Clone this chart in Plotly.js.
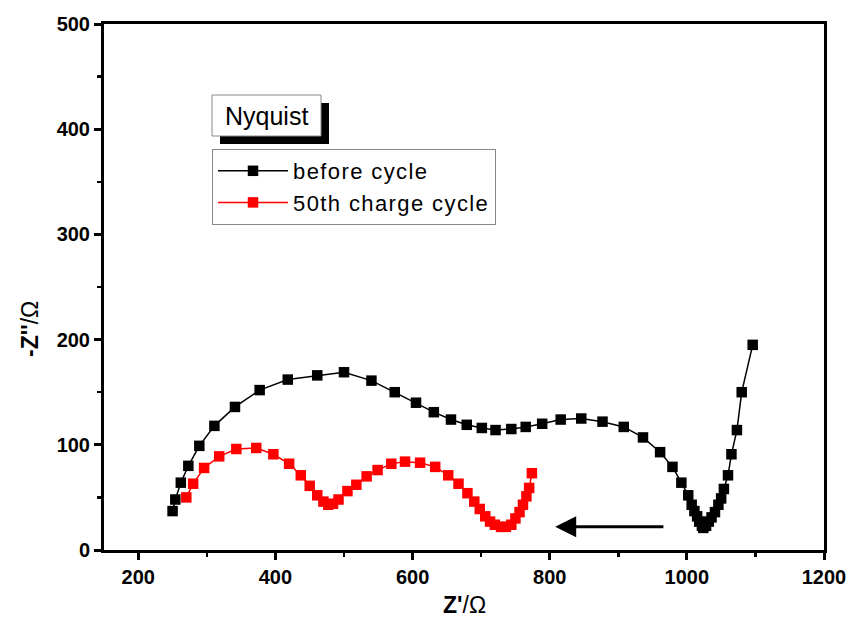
<!DOCTYPE html>
<html>
<head>
<meta charset="utf-8">
<script src="https://cdn.plot.ly/plotly-3.0.1.min.js"></script>
<style>
html,body{margin:0;padding:0;background:#fff}
.legendtext{letter-spacing:1.4px}
</style>
</head>
<body>
<div id="chart" style="width:848px;height:619px"></div>
<script>
// "before cycle" series
var beforeX = [250, 254, 262, 273, 289, 311, 341, 377, 418, 461, 500, 540, 574, 605, 631, 656, 679, 701, 721, 744, 765, 789, 816, 846, 877, 908, 936, 961, 979, 992, 1002, 1007, 1011, 1015, 1018, 1022, 1024, 1028, 1032, 1036, 1041, 1046, 1050, 1054, 1060, 1065, 1073, 1080, 1096];
var beforeY = [37, 48, 64, 80, 99, 118, 136, 152, 162, 166, 169, 161, 150, 140, 131, 124, 119, 116, 114, 115, 117, 120, 124, 125, 122, 117, 107, 93, 79, 64, 52, 43, 37, 32, 27, 23, 21, 23, 27, 31, 36, 43, 49, 58, 71, 91, 114, 150, 195];
// "50th charge cycle" series
var afterX = [270, 280, 296, 318, 343, 372, 397, 420, 437, 450, 461, 470, 477, 484, 492, 505, 518, 533, 549, 569, 589, 611, 633, 652, 667, 680, 690, 698, 706, 713, 720, 729, 736, 744, 750, 756, 761, 766, 770, 774];
var afterY = [50, 63, 78, 89, 96, 97, 91, 82, 71, 61, 52, 46, 43, 44, 48, 56, 62, 70, 76, 82, 84, 83, 79, 71, 63, 54, 46, 39, 32, 27, 24, 22, 22, 24, 30, 36, 43, 51, 59, 73];
var seriesNames = ["before cycle", "50th charge cycle"];
var xTicks = [200, 400, 600, 800, 1000, 1200];
var yTicks = [0, 100, 200, 300, 400, 500];

var FONT = "Liberation Sans, Arial, sans-serif";

var traces = [
  {x: beforeX, y: beforeY, name: seriesNames[0], type: "scatter", mode: "lines+markers",
   line: {color: "#000000", width: 1.5}, marker: {symbol: "square", size: 10.5, color: "#000000"}},
  {x: afterX, y: afterY, name: seriesNames[1], type: "scatter", mode: "lines+markers",
   line: {color: "#ff0000", width: 1.5}, marker: {symbol: "square", size: 10.5, color: "#ff0000"}}
];

function px2x(px){ return (px - 104) / 720; }
function py2y(py){ return (550 - py) / 526; }

var layout = {
  width: 848, height: 619,
  margin: {l: 104, r: 24, t: 24, b: 69},
  paper_bgcolor: "#ffffff", plot_bgcolor: "#ffffff",
  font: {family: FONT, color: "#000000"},
  showlegend: true,
  legend: {
    x: px2x(212), y: py2y(149), xanchor: "left", yanchor: "top",
    bgcolor: "#ffffff", bordercolor: "#888888", borderwidth: 1,
    font: {family: FONT, size: 22, color: "#000000"},
    itemwidth: 70, tracegroupgap: 0
  },
  xaxis: {
    range: [150, 1200], tickvals: xTicks, ticktext: xTicks.map(String),
    showline: true, linewidth: 3, linecolor: "#000000", mirror: true,
    ticks: "outside", ticklen: 7, tickwidth: 3, tickcolor: "#000000",
    minor: {ticks: "outside", ticklen: 4, tickwidth: 2.5, dtick: 100, tick0: 100, tickcolor: "#000000"},
    showgrid: false, zeroline: false,
    tickfont: {family: FONT, size: 20, color: "#000000", weight: "bold"}
  },
  yaxis: {
    range: [0, 500], tickvals: yTicks, ticktext: yTicks.map(String),
    showline: true, linewidth: 3, linecolor: "#000000", mirror: true,
    ticks: "outside", ticklen: 7, tickwidth: 3, tickcolor: "#000000",
    minor: {ticks: "outside", ticklen: 4, tickwidth: 2.5, dtick: 50, tick0: 50, tickcolor: "#000000"},
    showgrid: false, zeroline: false,
    tickfont: {family: FONT, size: 20, color: "#000000", weight: "bold"}
  },
  shapes: [
    {type: "rect", xref: "paper", yref: "paper", x0: px2x(220), x1: px2x(329), y0: py2y(144), y1: py2y(103),
     fillcolor: "#000000", line: {width: 0}, layer: "above"},
    {type: "rect", xref: "paper", yref: "paper", x0: px2x(212), x1: px2x(321), y0: py2y(136), y1: py2y(95),
     fillcolor: "#ffffff", line: {color: "#888888", width: 1}, layer: "above"}
  ],
  annotations: [
    {xref: "paper", yref: "paper", x: px2x(266.5), y: py2y(116), text: "Nyquist", showarrow: false,
     font: {family: FONT, size: 25, color: "#000000"}, xanchor: "center", yanchor: "middle"},
    {xref: "x", yref: "y", axref: "x", ayref: "y", x: 808, y: 22, ax: 968, ay: 22, text: "",
     showarrow: true, arrowhead: 2, arrowsize: 1.4, arrowwidth: 3, arrowcolor: "#000000"},
    {xref: "paper", yref: "paper", x: 0.5, y: py2y(605), text: "<b>Z'</b>/Ω", showarrow: false,
     font: {family: FONT, size: 23, color: "#000000"}, xanchor: "center", yanchor: "middle"},
    {xref: "paper", yref: "paper", x: px2x(30), y: py2y(329), text: "<b>-Z''</b>/Ω", showarrow: false, textangle: -90,
     font: {family: FONT, size: 23, color: "#000000"}, xanchor: "center", yanchor: "middle"}
  ]
};

Plotly.newPlot("chart", traces, layout, {displayModeBar: false, staticPlot: true});
</script>
</body>
</html>
